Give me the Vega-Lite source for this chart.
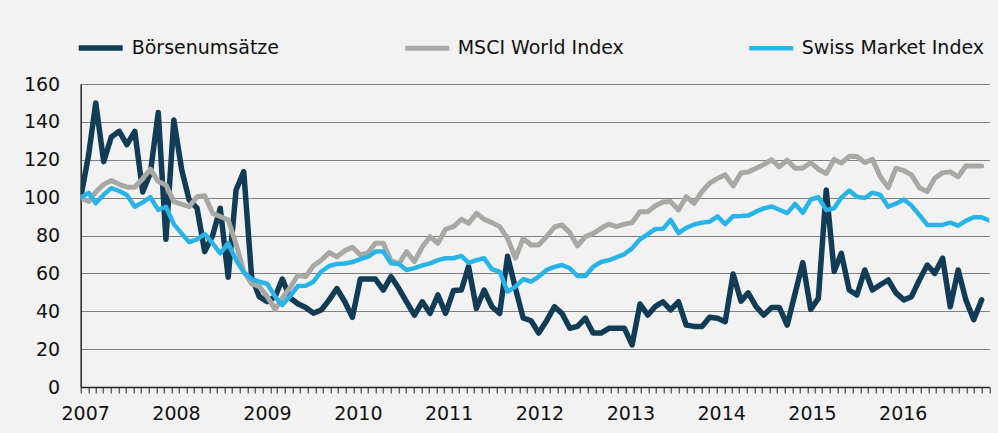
{
  "$schema": "https://vega.github.io/schema/vega-lite/v6.json",
  "width": 908.6,
  "height": 303,
  "autosize": {"type": "none"},
  "padding": {"left": 80.7, "top": 84, "right": 8.7, "bottom": 46},
  "background": "#f2f2f2",
  "config": {"view": {"stroke": null}, "font": "DejaVu Sans"},
  "data": {"values": [
    {"d":"2007-01","Börsenumsätze":100,"MSCI World Index":100,"Swiss Market Index":100},
    {"d":"2007-02","Börsenumsätze":122.5,"MSCI World Index":98,"Swiss Market Index":102.5},
    {"d":"2007-03","Börsenumsätze":150,"MSCI World Index":103,"Swiss Market Index":97},
    {"d":"2007-04","Börsenumsätze":119,"MSCI World Index":107,"Swiss Market Index":101.5},
    {"d":"2007-05","Börsenumsätze":132,"MSCI World Index":109,"Swiss Market Index":105},
    {"d":"2007-06","Börsenumsätze":135,"MSCI World Index":107,"Swiss Market Index":103.5},
    {"d":"2007-07","Börsenumsätze":128,"MSCI World Index":105.5,"Swiss Market Index":101.4},
    {"d":"2007-08","Börsenumsätze":135,"MSCI World Index":105.5,"Swiss Market Index":95.2},
    {"d":"2007-09","Börsenumsätze":103,"MSCI World Index":110,"Swiss Market Index":97.5},
    {"d":"2007-10","Börsenumsätze":113,"MSCI World Index":115,"Swiss Market Index":100.2},
    {"d":"2007-11","Börsenumsätze":145,"MSCI World Index":108.5,"Swiss Market Index":93.5},
    {"d":"2007-12","Börsenumsätze":78,"MSCI World Index":106.7,"Swiss Market Index":95.2},
    {"d":"2008-01","Börsenumsätze":141,"MSCI World Index":97.9,"Swiss Market Index":86},
    {"d":"2008-02","Börsenumsätze":114.6,"MSCI World Index":96.5,"Swiss Market Index":81},
    {"d":"2008-03","Börsenumsätze":98.8,"MSCI World Index":95.2,"Swiss Market Index":76.5},
    {"d":"2008-04","Börsenumsätze":94.4,"MSCI World Index":100.5,"Swiss Market Index":78},
    {"d":"2008-05","Börsenumsätze":71.5,"MSCI World Index":101,"Swiss Market Index":80.8},
    {"d":"2008-06","Börsenumsätze":80,"MSCI World Index":91.7,"Swiss Market Index":75.9},
    {"d":"2008-07","Börsenumsätze":94.4,"MSCI World Index":90,"Swiss Market Index":70.6},
    {"d":"2008-08","Börsenumsätze":58,"MSCI World Index":88.2,"Swiss Market Index":76},
    {"d":"2008-09","Börsenumsätze":104,"MSCI World Index":75.5,"Swiss Market Index":67},
    {"d":"2008-10","Börsenumsätze":113.7,"MSCI World Index":61,"Swiss Market Index":60.5},
    {"d":"2008-11","Börsenumsätze":58,"MSCI World Index":54.5,"Swiss Market Index":57},
    {"d":"2008-12","Börsenumsätze":47.7,"MSCI World Index":53,"Swiss Market Index":55.6},
    {"d":"2009-01","Börsenumsätze":45,"MSCI World Index":47.7,"Swiss Market Index":54.5},
    {"d":"2009-02","Börsenumsätze":47.7,"MSCI World Index":41,"Swiss Market Index":47.7},
    {"d":"2009-03","Börsenumsätze":57,"MSCI World Index":47,"Swiss Market Index":43.3},
    {"d":"2009-04","Börsenumsätze":47,"MSCI World Index":52.5,"Swiss Market Index":48},
    {"d":"2009-05","Börsenumsätze":44,"MSCI World Index":59,"Swiss Market Index":53.3},
    {"d":"2009-06","Börsenumsätze":42,"MSCI World Index":58.3,"Swiss Market Index":53.5},
    {"d":"2009-07","Börsenumsätze":39,"MSCI World Index":64,"Swiss Market Index":55.6},
    {"d":"2009-08","Börsenumsätze":40.7,"MSCI World Index":67,"Swiss Market Index":61},
    {"d":"2009-09","Börsenumsätze":46,"MSCI World Index":71,"Swiss Market Index":63.9},
    {"d":"2009-10","Börsenumsätze":52,"MSCI World Index":68.8,"Swiss Market Index":65},
    {"d":"2009-11","Börsenumsätze":45,"MSCI World Index":72,"Swiss Market Index":65.2},
    {"d":"2009-12","Börsenumsätze":36.8,"MSCI World Index":73.8,"Swiss Market Index":66},
    {"d":"2010-01","Börsenumsätze":57,"MSCI World Index":69.7,"Swiss Market Index":67.5},
    {"d":"2010-02","Börsenumsätze":57,"MSCI World Index":71,"Swiss Market Index":68.8},
    {"d":"2010-03","Börsenumsätze":57,"MSCI World Index":75.9,"Swiss Market Index":71.5},
    {"d":"2010-04","Börsenumsätze":51.2,"MSCI World Index":75.9,"Swiss Market Index":71.5},
    {"d":"2010-05","Börsenumsätze":58.3,"MSCI World Index":66.7,"Swiss Market Index":65.3},
    {"d":"2010-06","Börsenumsätze":52,"MSCI World Index":65,"Swiss Market Index":65},
    {"d":"2010-07","Börsenumsätze":45,"MSCI World Index":71.5,"Swiss Market Index":61.8},
    {"d":"2010-08","Börsenumsätze":38,"MSCI World Index":66.2,"Swiss Market Index":62.8},
    {"d":"2010-09","Börsenumsätze":45,"MSCI World Index":74,"Swiss Market Index":64.2},
    {"d":"2010-10","Börsenumsätze":38.9,"MSCI World Index":79.4,"Swiss Market Index":65.3},
    {"d":"2010-11","Börsenumsätze":48.6,"MSCI World Index":75.9,"Swiss Market Index":67},
    {"d":"2010-12","Börsenumsätze":38.9,"MSCI World Index":83.3,"Swiss Market Index":68},
    {"d":"2011-01","Börsenumsätze":50.9,"MSCI World Index":84.7,"Swiss Market Index":68},
    {"d":"2011-02","Börsenumsätze":51.2,"MSCI World Index":88.6,"Swiss Market Index":69.2},
    {"d":"2011-03","Börsenumsätze":63.6,"MSCI World Index":86.4,"Swiss Market Index":65.5},
    {"d":"2011-04","Börsenumsätze":41.5,"MSCI World Index":91.7,"Swiss Market Index":67},
    {"d":"2011-05","Börsenumsätze":51.2,"MSCI World Index":88.6,"Swiss Market Index":68},
    {"d":"2011-06","Börsenumsätze":42.4,"MSCI World Index":86.8,"Swiss Market Index":62.1},
    {"d":"2011-07","Börsenumsätze":38.9,"MSCI World Index":84.7,"Swiss Market Index":60.9},
    {"d":"2011-08","Börsenumsätze":69,"MSCI World Index":78.5,"Swiss Market Index":50.4},
    {"d":"2011-09","Börsenumsätze":52,"MSCI World Index":68,"Swiss Market Index":53},
    {"d":"2011-10","Börsenumsätze":36.5,"MSCI World Index":78.5,"Swiss Market Index":56.9},
    {"d":"2011-11","Börsenumsätze":35,"MSCI World Index":75,"Swiss Market Index":55.6},
    {"d":"2011-12","Börsenumsätze":28.5,"MSCI World Index":75,"Swiss Market Index":58.3},
    {"d":"2012-01","Börsenumsätze":35,"MSCI World Index":79.4,"Swiss Market Index":61.8},
    {"d":"2012-02","Börsenumsätze":42.4,"MSCI World Index":84.5,"Swiss Market Index":63.4},
    {"d":"2012-03","Börsenumsätze":38.9,"MSCI World Index":85.6,"Swiss Market Index":64.4},
    {"d":"2012-04","Börsenumsätze":31,"MSCI World Index":81.5,"Swiss Market Index":62.7},
    {"d":"2012-05","Börsenumsätze":32,"MSCI World Index":74.5,"Swiss Market Index":58.6},
    {"d":"2012-06","Börsenumsätze":36.3,"MSCI World Index":79.4,"Swiss Market Index":58.6},
    {"d":"2012-07","Börsenumsätze":28.5,"MSCI World Index":81,"Swiss Market Index":63.4},
    {"d":"2012-08","Börsenumsätze":28.5,"MSCI World Index":83.8,"Swiss Market Index":66},
    {"d":"2012-09","Börsenumsätze":31,"MSCI World Index":86,"Swiss Market Index":67},
    {"d":"2012-10","Börsenumsätze":31,"MSCI World Index":84.7,"Swiss Market Index":68.5},
    {"d":"2012-11","Börsenumsätze":31,"MSCI World Index":86,"Swiss Market Index":70.2},
    {"d":"2012-12","Börsenumsätze":22.2,"MSCI World Index":86.8,"Swiss Market Index":73.2},
    {"d":"2013-01","Börsenumsätze":43.8,"MSCI World Index":92.6,"Swiss Market Index":78},
    {"d":"2013-02","Börsenumsätze":38,"MSCI World Index":92.6,"Swiss Market Index":80.7},
    {"d":"2013-03","Börsenumsätze":42.4,"MSCI World Index":95.6,"Swiss Market Index":83.4},
    {"d":"2013-04","Börsenumsätze":45,"MSCI World Index":97.7,"Swiss Market Index":83.5},
    {"d":"2013-05","Börsenumsätze":40.7,"MSCI World Index":97.9,"Swiss Market Index":88.2},
    {"d":"2013-06","Börsenumsätze":45,"MSCI World Index":93.5,"Swiss Market Index":81.3},
    {"d":"2013-07","Börsenumsätze":32.7,"MSCI World Index":100.5,"Swiss Market Index":84},
    {"d":"2013-08","Börsenumsätze":32,"MSCI World Index":97,"Swiss Market Index":85.8},
    {"d":"2013-09","Börsenumsätze":32,"MSCI World Index":103.2,"Swiss Market Index":86.8},
    {"d":"2013-10","Börsenumsätze":36.8,"MSCI World Index":107.6,"Swiss Market Index":87.3},
    {"d":"2013-11","Börsenumsätze":36.3,"MSCI World Index":110.2,"Swiss Market Index":90.1},
    {"d":"2013-12","Börsenumsätze":34.5,"MSCI World Index":112,"Swiss Market Index":86},
    {"d":"2014-01","Börsenumsätze":59.7,"MSCI World Index":106.2,"Swiss Market Index":90.2},
    {"d":"2014-02","Börsenumsätze":45.3,"MSCI World Index":113,"Swiss Market Index":90.3},
    {"d":"2014-03","Börsenumsätze":49.7,"MSCI World Index":113.5,"Swiss Market Index":90.5},
    {"d":"2014-04","Börsenumsätze":42.4,"MSCI World Index":115.5,"Swiss Market Index":92.6},
    {"d":"2014-05","Börsenumsätze":38,"MSCI World Index":117.5,"Swiss Market Index":94.3},
    {"d":"2014-06","Börsenumsätze":42,"MSCI World Index":120,"Swiss Market Index":95.3},
    {"d":"2014-07","Börsenumsätze":42,"MSCI World Index":116.2,"Swiss Market Index":93.6},
    {"d":"2014-08","Börsenumsätze":32.7,"MSCI World Index":119.8,"Swiss Market Index":91.8},
    {"d":"2014-09","Börsenumsätze":49.5,"MSCI World Index":115.5,"Swiss Market Index":96.7},
    {"d":"2014-10","Börsenumsätze":65.7,"MSCI World Index":115.5,"Swiss Market Index":92},
    {"d":"2014-11","Börsenumsätze":41,"MSCI World Index":118.5,"Swiss Market Index":99},
    {"d":"2014-12","Börsenumsätze":46.8,"MSCI World Index":115,"Swiss Market Index":100.2},
    {"d":"2015-01","Börsenumsätze":104,"MSCI World Index":112.7,"Swiss Market Index":93.4},
    {"d":"2015-02","Börsenumsätze":61,"MSCI World Index":120.2,"Swiss Market Index":94.4},
    {"d":"2015-03","Börsenumsätze":70.6,"MSCI World Index":118.2,"Swiss Market Index":100},
    {"d":"2015-04","Börsenumsätze":51.2,"MSCI World Index":121.8,"Swiss Market Index":103.7},
    {"d":"2015-05","Börsenumsätze":48.6,"MSCI World Index":121.7,"Swiss Market Index":100.5},
    {"d":"2015-06","Börsenumsätze":61.8,"MSCI World Index":118.5,"Swiss Market Index":99.8},
    {"d":"2015-07","Börsenumsätze":51.2,"MSCI World Index":120.2,"Swiss Market Index":102.6},
    {"d":"2015-08","Börsenumsätze":54,"MSCI World Index":111,"Swiss Market Index":101.4},
    {"d":"2015-09","Börsenumsätze":56.5,"MSCI World Index":105.3,"Swiss Market Index":95.2},
    {"d":"2015-10","Börsenumsätze":49.7,"MSCI World Index":115.5,"Swiss Market Index":96.8},
    {"d":"2015-11","Börsenumsätze":46,"MSCI World Index":114.3,"Swiss Market Index":99},
    {"d":"2015-12","Börsenumsätze":47.7,"MSCI World Index":112,"Swiss Market Index":95.8},
    {"d":"2016-01","Börsenumsätze":56.5,"MSCI World Index":105.2,"Swiss Market Index":90.8},
    {"d":"2016-02","Börsenumsätze":64.4,"MSCI World Index":103.2,"Swiss Market Index":85.6},
    {"d":"2016-03","Börsenumsätze":60,"MSCI World Index":110.2,"Swiss Market Index":85.6},
    {"d":"2016-04","Börsenumsätze":68,"MSCI World Index":113.2,"Swiss Market Index":85.6},
    {"d":"2016-05","Börsenumsätze":42.4,"MSCI World Index":113.6,"Swiss Market Index":86.8},
    {"d":"2016-06","Börsenumsätze":61.8,"MSCI World Index":111,"Swiss Market Index":85.2},
    {"d":"2016-07","Börsenumsätze":46,"MSCI World Index":116.7,"Swiss Market Index":87.7},
    {"d":"2016-08","Börsenumsätze":35.5,"MSCI World Index":116.7,"Swiss Market Index":89.6},
    {"d":"2016-09","Börsenumsätze":46,"MSCI World Index":116.7,"Swiss Market Index":89.6},
    {"d":"2016-10","Swiss Market Index":87.9}
  ]},
  "transform": [{"fold": ["Börsenumsätze", "MSCI World Index", "Swiss Market Index"], "as": ["series", "value"]}],
  "layer": [
    {
      "mark": {"type": "point", "opacity": 0},
      "encoding": {
        "x": {
          "field": "d", "type": "temporal",
          "scale": {"type": "utc", "domain": [{"year": 2007, "month": 1, "date": 1, "utc": true}, {"year": 2017, "month": 1, "date": 1, "utc": true}]},
          "axis": {
            "title": null, "grid": false,
            "tickCount": {"interval": "month", "step": 1},
            "labelExpr": "utcmonth(datum.value) === 0 && utcyear(datum.value) < 2017 ? utcFormat(datum.value, '%Y') : ''",
            "labelOverlap": false, "labelFlush": false, "labelOffset": 4.5, "labelAngle": 0,
            "labelFontSize": 19, "labelColor": "#111111", "labelPadding": 11,
            "tickSize": 6, "tickColor": "#222222", "tickWidth": 1,
            "domainColor": "#222222", "domainWidth": 1.5
          }
        }
      }
    },
    {
      "mark": {"type": "line", "strokeJoin": "round", "strokeCap": "round", "clip": true},
      "encoding": {
        "x": {
          "field": "d", "type": "temporal",
          "scale": {"type": "utc", "domain": [{"year": 2007, "month": 1, "date": 1, "utc": true}, {"year": 2016, "month": 10, "date": 1, "utc": true}]},
          "axis": null
        },
        "y": {
          "field": "value", "type": "quantitative",
          "scale": {"domain": [0, 160], "nice": false},
          "axis": {
            "title": null, "values": [0, 20, 40, 60, 80, 100, 120, 140, 160],
            "grid": true, "gridColor": "#7f7f7f", "gridWidth": 1.2,
            "ticks": false, "labelPadding": 21, "labelFontSize": 19, "labelColor": "#111111",
            "domainColor": "#222222", "domainWidth": 1.5
          }
        },
        "color": {
          "field": "series", "type": "nominal",
          "scale": {"domain": ["Börsenumsätze", "MSCI World Index", "Swiss Market Index"], "range": ["#123b55", "#a8a8a4", "#28b4e8"]},
          "legend": {
            "title": null, "orient": "none", "legendX": -5, "legendY": -61, "direction": "horizontal",
            "columnPadding": 115, "labelFontSize": 19, "labelColor": "#111111", "labelLimit": 0,
            "symbolType": "stroke", "symbolSize": 1936, "symbolStrokeWidth": 6, "labelOffset": 6
          }
        },
        "strokeWidth": {
          "field": "series", "type": "nominal",
          "scale": {"domain": ["Börsenumsätze", "MSCI World Index", "Swiss Market Index"], "range": [5.5, 4.5, 4.5]},
          "legend": null
        }
      }
    }
  ],
  "resolve": {"scale": {"x": "independent"}, "axis": {"x": "independent"}}
}
